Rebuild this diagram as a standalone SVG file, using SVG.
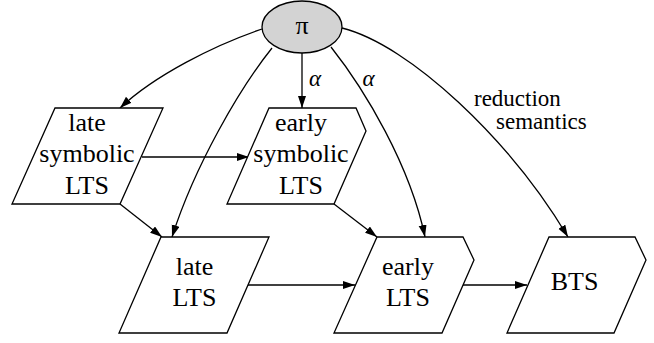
<svg xmlns="http://www.w3.org/2000/svg" width="654" height="343" viewBox="0 0 654 343">
<style>
.n{fill:#fff;stroke:#000;stroke-width:1.3}
.t{font-family:"Liberation Serif","Times New Roman",Times,"DejaVu Serif","Noto Serif",serif;font-size:26px;text-anchor:middle;fill:#000}
.l{font-family:"Liberation Serif","Times New Roman",Times,"DejaVu Serif","Noto Serif",serif;font-size:23px;fill:#000}
.e{fill:none;stroke:#000;stroke-width:1.3}
</style>
<defs>
<marker id="ah" markerUnits="userSpaceOnUse" markerWidth="13" markerHeight="9" refX="12" refY="4" orient="auto">
<path d="M0,0 L12,4 L0,8 z" fill="#000"/>
</marker>
</defs>
<rect width="654" height="343" fill="#fff"/>
<g id="connectors">
<path class="e" marker-end="url(#ah)" d="M262,29 C215,45 155,75 120,108"/>
<path class="e" marker-end="url(#ah)" d="M272,48 C240,88 195,165 172,237"/>
<path class="e" marker-end="url(#ah)" d="M302,53 L302,108"/>
<path class="e" marker-end="url(#ah)" d="M331,47 C365,90 410,165 425,237"/>
<path class="e" marker-end="url(#ah)" d="M342,28 C410,45 510,140 568,237"/>
<path class="e" marker-end="url(#ah)" d="M142,157 L249,157"/>
<path class="e" marker-end="url(#ah)" d="M120,204 L162,237"/>
<path class="e" marker-end="url(#ah)" d="M334,204 L377,237"/>
<path class="e" marker-end="url(#ah)" d="M248,285 L355,285"/>
<path class="e" marker-end="url(#ah)" d="M463,285 L527,285"/>
<text class="l" x="315" y="86" text-anchor="middle" font-style="italic">α</text>
<text class="l" x="368.5" y="86" text-anchor="middle" font-style="italic">α</text>
<text class="l" x="474" y="106">reduction</text>
<text class="l" x="496" y="129">semantics</text>
</g>
<g id="pi">
<ellipse cx="302" cy="27" rx="40" ry="26" fill="#d3d3d3" stroke="#000" stroke-width="1.3"/>
<text class="t" x="302" y="34">π</text>
</g>
<g id="late-symbolic-lts">
<polygon class="n" points="55,108 163,108 120,204 12,204"/>
<text class="t" x="87" y="131">late</text>
<text class="t" x="87" y="162">symbolic</text>
<text class="t" x="87" y="194">LTS</text>
</g>
<g id="early-symbolic-lts">
<polygon class="n" points="269,108 356,108 366,131 334,204 227,204"/>
<text class="t" x="301" y="131">early</text>
<text class="t" x="301" y="162">symbolic</text>
<text class="t" x="301" y="194">LTS</text>
</g>
<g id="late-lts">
<polygon class="n" points="161,237 269,237 227,333 119,333"/>
<text class="t" x="194.5" y="275">late</text>
<text class="t" x="194.5" y="306">LTS</text>
</g>
<g id="early-lts">
<polygon class="n" points="377,237 463,237 474,260 442,333 334,333"/>
<text class="t" x="408" y="275">early</text>
<text class="t" x="408" y="306">LTS</text>
</g>
<g id="bts">
<polygon class="n" points="549,237 635,237 646,260 614,333 507,333"/>
<text class="t" x="574.5" y="290">BTS</text>
</g>
</svg>
